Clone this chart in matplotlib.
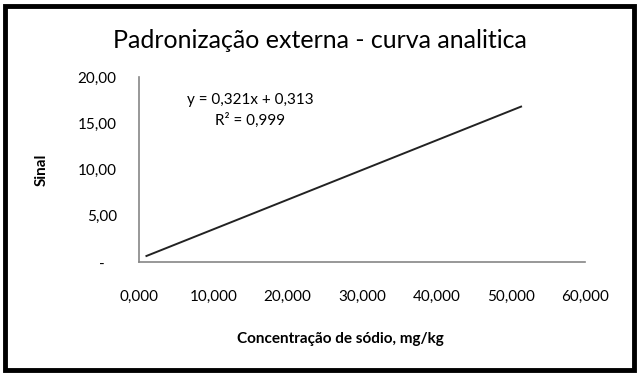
import matplotlib.pyplot as plt
from matplotlib.patches import Rectangle
from matplotlib.ticker import FuncFormatter

plt.rcParams['font.family'] = ['Lato', 'DejaVu Sans']

# trend line endpoints
concentracao = [1.0, 51.4]
sinal = [0.65, 16.8]
xticks = [0, 10, 20, 30, 40, 50, 60]
yticks = [0, 5, 10, 15, 20]

fig = plt.figure(figsize=(6.4, 3.75), dpi=100)
ax = fig.add_axes([139/640, 1-262/375, (585-139)/640, (262-77)/375])

ax.plot(concentracao, sinal, color='#222222', lw=1.4)

ax.set_xlim(0, 60)
ax.set_ylim(0, 20)
ax.set_xticks(xticks)
ax.set_yticks(yticks)
ax.xaxis.set_major_formatter(FuncFormatter(lambda v, p: f'{v:.3f}'.replace('.', ',')))
ax.yaxis.set_major_formatter(FuncFormatter(lambda v, p: '-   ' if v == 0 else f'{v:.2f}'.replace('.', ',')))
ax.tick_params(length=0, labelsize=11, colors='black')
ax.tick_params(axis='x', pad=20)
ax.tick_params(axis='y', pad=16)

for s in ['top', 'right']:
    ax.spines[s].set_visible(False)
for s in ['left', 'bottom']:
    ax.spines[s].set_color('#868686')
    ax.spines[s].set_linewidth(1.2)

ax.set_xlabel('Concentração de sódio, mg/kg', fontsize=11, fontweight='bold')
ax.xaxis.set_label_coords((340-139)/446, (262-332)/185)
ax.set_ylabel('Sinal', fontsize=11, fontweight='bold')
ax.yaxis.set_label_coords((49-139)/446, 0.5)

fig.text(0.5, 1-40/375, 'Padronização externa - curva analitica', ha='center', va='center', fontsize=18)
ax.text((250-139)/446, (262-93)/185, 'y = 0,321x + 0,313\nR² = 0,999', transform=ax.transAxes,
        ha='center', va='top', fontsize=11, linespacing=1.5)

fig.patches.append(Rectangle((4.5/640, 5/375), 629/640, 364/375, transform=fig.transFigure,
                             fill=False, edgecolor='black', lw=3.5))

fig.savefig('out.png', dpi=100)
